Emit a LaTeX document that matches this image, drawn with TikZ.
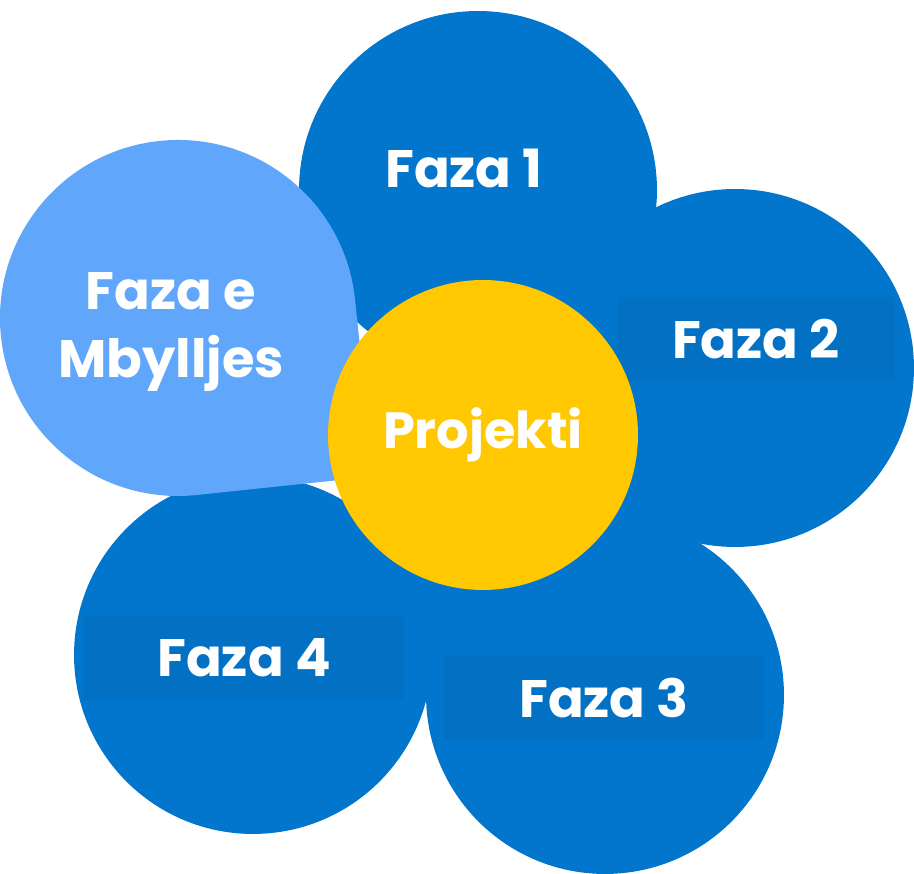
\documentclass[tikz,border=0pt]{standalone}
\usepackage{fontspec}
\setmainfont{Poppins}
\usepackage{xcolor}
\usetikzlibrary{positioning,calc}

\definecolor{petalblue}{RGB}{2,117,204}
\definecolor{boxblue}{RGB}{2,112,195}
\definecolor{closeblue}{RGB}{96,166,250}
\definecolor{hubyellow}{RGB}{255,200,0}

\begin{document}
\begin{tikzpicture}[
    x=0.02cm, y=0.02cm,
    petal/.style={circle, fill=petalblue, minimum size=7.16cm, inner sep=0pt},
    hub/.style={circle, fill=hubyellow, minimum size=6.2cm, inner sep=0pt, text=white, font=\fontsize{29}{34}\selectfont\bfseries},
    phase/.style={text=white, font=\fontsize{30}{36}\selectfont\bfseries, align=center},
    phasebox/.style={phase, fill=boxblue, minimum width=6.4cm, minimum height=1.68cm, inner sep=0pt}
]
    \useasboundingbox (0,0) rectangle (914,874);
    \coordinate (c) at (483,439);

    % Petals
    \node[petal] (p1) at (478,684) {};
    \node[petal] (p2) at (735,506) {};
    \node[petal] (p3) at (605,179) {};
    \node[petal] (p4) at (253,219) {};
    % fill between the lower petals
    \fill[petalblue] (p4.center) -- (p3.center) -- (p2.center) -- (c) -- cycle;

    % Text boxes on the petals
    \node[phasebox, minimum width=5.58cm] (f2) at (756,535) {Faza 2};
    \node[phasebox] (f4) at (244,216) {Faza 4};
    \node[phasebox] (f3) at (604,176) {Faza 3};
    \node[phase, anchor=base] (f1) at (464,686) {Faza 1};

    % Closing phase (teardrop)
    \fill[closeblue, rotate around={6:(178,556)}]
        (356,556) arc[start angle=0, end angle=270, radius=178] -- (356,378) -- cycle;
    \node[phase, anchor=base] (fe) at (171,564) {Faza e};
    \node[phase, anchor=base] (fm) at (171,496) {Mbylljes};

    % Centre
    \node[hub] (proj) at (c) {Projekti};
\end{tikzpicture}
\end{document}
